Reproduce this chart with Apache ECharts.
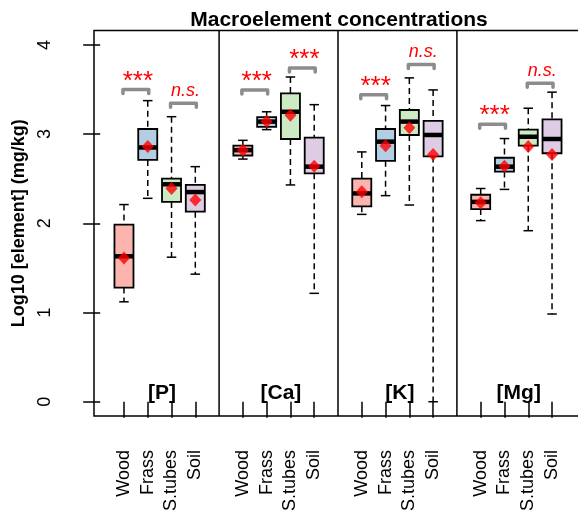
<!DOCTYPE html>
<html>
<head>
<meta charset="utf-8">
<script src="https://cdn.jsdelivr.net/npm/echarts@6/dist/echarts.min.js"></script>
<style>
html,body{margin:0;padding:0;background:#fff;}
#chart{width:578px;height:513px;}
</style>
</head>
<body>
<div id="chart"></div>
<script>
// ---------- data ----------
const categories = ['Wood', 'Frass', 'S.tubes', 'Soil'];
const elements = ['[P]', '[Ca]', '[K]', '[Mg]'];
const yTicks = [0, 1, 2, 3, 4];

// [lower whisker, Q1, median, Q3, upper whisker] per category
const P_stats = [
  [1.12, 1.28, 1.63, 1.985, 2.21],
  [2.28, 2.71, 2.85, 3.057, 3.375],
  [1.62, 2.24, 2.437, 2.50, 3.195],
  [1.43, 2.13, 2.35, 2.43, 2.635]
];
const P_mean = [1.61, 2.86, 2.39, 2.26];

const Ca_stats = [
  [2.72, 2.76, 2.82, 2.87, 2.93],
  [3.05, 3.08, 3.14, 3.19, 3.25],
  [2.43, 2.945, 3.25, 3.457, 3.64],
  [1.215, 2.56, 2.635, 2.96, 3.33]
];
const Ca_mean = [2.82, 3.14, 3.21, 2.64];

const K_stats = [
  [2.10, 2.19, 2.335, 2.50, 2.80],
  [2.31, 2.70, 2.915, 3.057, 3.32],
  [2.205, 2.99, 3.14, 3.27, 3.63],
  [0.0, 2.75, 2.99, 3.147, 3.495]
];
const K_mean = [2.355, 2.87, 3.07, 2.77];

const Mg_stats = [
  [2.03, 2.16, 2.24, 2.32, 2.39],
  [2.38, 2.58, 2.635, 2.735, 2.95],
  [1.917, 2.87, 2.97, 3.05, 3.29],
  [0.983, 2.785, 2.945, 3.165, 3.47]
];
const Mg_mean = [2.23, 2.64, 2.86, 2.77];

// significance: pairs (Wood–Frass), (S.tubes–Soil)
const sigLabels = [['***', 'n.s.'], ['***', '***'], ['***', 'n.s.'], ['***', 'n.s.']];
const sigBracketY = [[3.50, 3.345], [3.495, 3.74], [3.44, 3.78], [3.11, 3.57]];

// ---------- build ----------
const allStats = [P_stats, Ca_stats, K_stats, Mg_stats];
const allMeans = [P_mean, Ca_mean, K_mean, Mg_mean];
const nCat = categories.length;
const groupStep = nCat + 1;
const posOf = (g, c) => g * groupStep + c + 1;

const boxColors = ['#FBB4AE', '#B3CDE3', '#CCEBC5', '#DECBE4'];
const FONT = 'Liberation Sans, Arial, Helvetica, sans-serif';

const boxData = [], meanData = [], tickPos = [], labelMap = {};
allStats.forEach((st, g) => {
  st.forEach((s, c) => {
    const p = posOf(g, c);
    boxData.push([p, s[0], s[1], s[2], s[3], s[4], c]);
    meanData.push([p, allMeans[g][c]]);
    tickPos.push(p);
    labelMap[p] = categories[c];
  });
});
const dividerData = [];
for (let g = 1; g < elements.length; g++) dividerData.push([g * groupStep]);
const panelData = elements.map((e, g) => [g * groupStep + 2.6, 0.1, g]);
const bracketData = [];
sigLabels.forEach((pair, g) => {
  bracketData.push([posOf(g, 0), posOf(g, 1), sigBracketY[g][0], g, 0]);
  bracketData.push([posOf(g, 2), posOf(g, 3), sigBracketY[g][1], g, 1]);
});

function renderBox(params, api) {
  const x = api.value(0);
  const lo = api.coord([x, api.value(1)]);
  const q1 = api.coord([x, api.value(2)]);
  const med = api.coord([x, api.value(3)]);
  const q3 = api.coord([x, api.value(4)]);
  const hi = api.coord([x, api.value(5)]);
  const ci = api.value(6);
  const px = lo[0];
  const halfW = api.coord([x + 0.4, 0])[0] - px;
  const capW = halfW / 2;
  const dash = {stroke: '#000', lineWidth: 1.5, lineDash: [6, 4]};
  const solid = {stroke: '#000', lineWidth: 1.5};
  return {
    type: 'group',
    children: [
      {type: 'line', shape: {x1: px, y1: hi[1], x2: px, y2: q3[1]}, style: dash},
      {type: 'line', shape: {x1: px, y1: q1[1], x2: px, y2: lo[1]}, style: dash},
      {type: 'line', shape: {x1: px - capW, y1: hi[1], x2: px + capW, y2: hi[1]}, style: solid},
      {type: 'line', shape: {x1: px - capW, y1: lo[1], x2: px + capW, y2: lo[1]}, style: solid},
      {type: 'rect', shape: {x: px - halfW, y: q3[1], width: 2 * halfW, height: q1[1] - q3[1]},
        style: {fill: boxColors[ci], stroke: '#000', lineWidth: 1.8}},
      {type: 'line', shape: {x1: px - halfW, y1: med[1], x2: px + halfW, y2: med[1]},
        style: {stroke: '#000', lineWidth: 4.5, lineCap: 'butt'}}
    ]
  };
}

function renderDivider(params, api) {
  const p = api.coord([api.value(0), 0]);
  const cs = params.coordSys;
  return {type: 'line', shape: {x1: p[0], y1: cs.y, x2: p[0], y2: cs.y + cs.height},
    style: {stroke: '#000', lineWidth: 1.5}};
}

function renderPanel(params, api) {
  const p = api.coord([api.value(0), api.value(1)]);
  return {type: 'text', x: p[0], y: p[1],
    style: {text: elements[api.value(2)], fill: '#000', font: 'bold 21px ' + FONT,
      align: 'center', verticalAlign: 'middle'}};
}

function renderBracket(params, api) {
  const a = api.coord([api.value(0), api.value(2)]);
  const b = api.coord([api.value(1), api.value(2)]);
  const y = a[1];
  const lab = sigLabels[api.value(3)][api.value(4)];
  const isStar = lab === '***';
  const mid = (a[0] + b[0]) / 2 + 2;
  return {
    type: 'group',
    children: [
      {type: 'polyline', shape: {points: [[a[0] - 1, y + 4], [a[0] - 1, y], [b[0] + 1, y], [b[0] + 1, y + 4]]},
        style: {stroke: '#8C8C8C', lineWidth: 3.5, fill: null, lineJoin: 'round', lineCap: 'round'}},
      {type: 'text', x: mid, y: isStar ? y - 8 : y - 12.5,
        style: {text: lab, fill: '#FF0000',
          font: isStar ? '26px ' + FONT : 'italic 18px ' + FONT,
          align: 'center', verticalAlign: 'middle'}}
    ]
  };
}

const chart = echarts.init(document.getElementById('chart'), null, {renderer: 'canvas'});
chart.setOption({
  animation: false,
  backgroundColor: '#fff',
  title: {
    text: 'Macroelement concentrations',
    left: 334, top: 5, textAlign: 'center',
    textStyle: {fontFamily: FONT, fontWeight: 'bold', fontSize: 21, color: '#000'}
  },
  grid: {left: 94, top: 30.6, width: 488, height: 385.4, show: true,
    containLabel: false, outerBoundsMode: 'none',
    borderColor: '#000', borderWidth: 1.5, backgroundColor: 'transparent'},
  xAxis: {
    type: 'value', min: -0.26, max: 20.26,
    axisLine: {show: false}, splitLine: {show: false},
    axisTick: {show: true, customValues: tickPos, length: 16, lineStyle: {color: '#000', width: 1.5}},
    axisLabel: {show: true, customValues: tickPos, rotate: 90, margin: 34,
      formatter: v => labelMap[Math.round(v)] || '',
      fontFamily: FONT, fontSize: 18, color: '#000'}
  },
  yAxis: {
    type: 'value', min: -0.16, max: 4.16,
    name: 'Log10 [element] (mg/kg)', nameLocation: 'middle', nameGap: 50,
    nameTextStyle: {fontFamily: FONT, fontWeight: 'bold', fontSize: 18, color: '#000'},
    axisLine: {show: false}, splitLine: {show: false},
    axisTick: {show: true, customValues: yTicks, length: 17, lineStyle: {color: '#000', width: 1.5}},
    axisLabel: {show: true, customValues: yTicks, rotate: 90, margin: 40,
      fontFamily: FONT, fontSize: 18, color: '#000'}
  },
  series: [
    {type: 'custom', renderItem: renderDivider, data: dividerData, z: 2, silent: true},
    {type: 'custom', renderItem: renderBox, data: boxData, z: 3, silent: true,
      encode: {x: 0, y: [1, 5]}},
    {type: 'scatter', data: meanData, symbol: 'diamond', symbolSize: [12, 13],
      itemStyle: {color: '#FF0000'}, z: 5, silent: true},
    {type: 'custom', renderItem: renderPanel, data: panelData, z: 4, silent: true},
    {type: 'custom', renderItem: renderBracket, data: bracketData, z: 4, silent: true,
      encode: {x: [0, 1], y: 2}}
  ]
});
</script>
</body>
</html>
